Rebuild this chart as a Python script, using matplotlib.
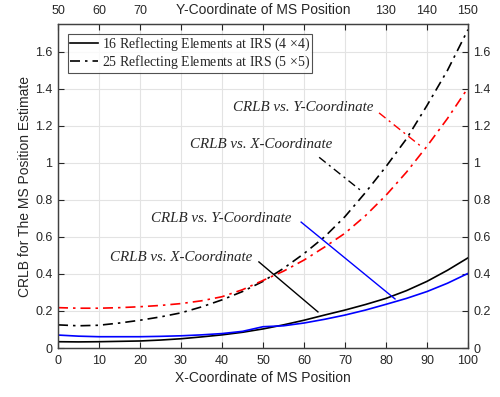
import matplotlib
matplotlib.use("Agg")
import matplotlib.pyplot as plt
import numpy as np

x = [0, 5, 10, 15, 20, 25, 30, 35, 40, 45, 50, 55, 60, 65, 70, 75, 80, 85, 90, 95, 100]
crlb16_x = [0.034, 0.033, 0.034, 0.036, 0.038, 0.043, 0.050, 0.060, 0.071, 0.085, 0.103,
            0.125, 0.150, 0.178, 0.205, 0.235, 0.268, 0.310, 0.360, 0.420, 0.487]
crlb16_y = [0.070, 0.064, 0.061, 0.061, 0.061, 0.063, 0.066, 0.071, 0.078, 0.090, 0.115,
            0.120, 0.135, 0.155, 0.178, 0.205, 0.236, 0.268, 0.305, 0.350, 0.403]
crlb25_x = [0.125, 0.120, 0.123, 0.135, 0.150, 0.168, 0.190, 0.222, 0.260, 0.305, 0.360,
            0.430, 0.510, 0.600, 0.710, 0.840, 0.980, 1.130, 1.310, 1.500, 1.720]
crlb25_y = [0.218, 0.215, 0.215, 0.218, 0.223, 0.230, 0.240, 0.255, 0.277, 0.315, 0.365,
            0.415, 0.475, 0.545, 0.620, 0.715, 0.825, 0.950, 1.090, 1.240, 1.405]

xticks = [0, 10, 20, 30, 40, 50, 60, 70, 80, 90, 100]
top_ticks = [50, 60, 70, 80, 90, 100, 110, 120, 130, 140, 150]
top_labels = ['50', '60', '70', '', '', '', '', '', '130', '140', '150']
yticks = [0, 0.2, 0.4, 0.6, 0.8, 1.0, 1.2, 1.4, 1.6]
ytick_labels = ['0', '0.2', '0.4', '0.6', '0.8', '1', '1.2', '1.4', '1.6']

legend_labels = ['16 Reflecting Elements at IRS (4 $\\times$4)',
                 '25 Reflecting Elements at IRS (5 $\\times$5)']

sans = ['Liberation Sans', 'DejaVu Sans']
serif = ['Liberation Serif', 'DejaVu Serif']
plt.rcParams['mathtext.fontset'] = 'custom'
plt.rcParams['mathtext.rm'] = 'Liberation Serif'
axc = '#262626'
dashdot = (0, (6, 3, 1.5, 3))

fig = plt.figure(figsize=(5.0, 3.97), dpi=100)
ax = fig.add_axes([0.116, 0.1234, 0.82, 0.8161])

ax.plot(x, crlb16_x, color='black', lw=1.2, label=legend_labels[0])
ax.plot(x, crlb25_x, color='black', lw=1.2, linestyle=dashdot, label=legend_labels[1])
ax.plot(x, crlb16_y, color='blue', lw=1.2)
ax.plot(x, crlb25_y, color='red', lw=1.2, linestyle=dashdot)

ax.set_xlim(0, 100)
ax.set_ylim(0, 1.75)
ax.set_xticks(xticks)
ax.set_xticklabels([str(t) for t in xticks], family=sans, fontsize=9, color=axc)
ax.set_yticks(yticks)
ax.set_yticklabels(ytick_labels, family=sans, fontsize=9, color=axc)
ax.tick_params(direction='in', length=4, width=0.8, color=axc, right=True, labelright=True)
ax.tick_params(axis='x', pad=5)
ax.tick_params(axis='y', pad=4)
ax.grid(True, color='#e3e3e3', lw=0.8)
ax.set_axisbelow(True)
for s in ax.spines.values():
    s.set_color('#404040')
    s.set_linewidth(0.9)

ax.set_xlabel('X-Coordinate of MS Position', family=sans, fontsize=10, color=axc, va='center')
ax.xaxis.set_label_coords(0.5, -0.0926)
ax.set_ylabel('CRLB for The MS Position Estimate', family=sans, fontsize=10, color=axc, va='center')
ax.yaxis.set_label_coords(-0.080, 0.5)

ax2 = ax.twiny()
ax2.set_xlim(50, 150)
ax2.set_xticks(top_ticks)
ax2.set_xticklabels(top_labels, family=sans, fontsize=9, color=axc)
ax2.tick_params(direction='in', length=4, width=0.8, color=axc, pad=5)
ax2.set_xlabel('Y-Coordinate of MS Position', family=sans, fontsize=10, color=axc, va='center')
ax2.xaxis.set_label_coords(0.5, 1.043)
for s in ax2.spines.values():
    s.set_color('#404040')
    s.set_linewidth(0.9)

leg = ax.legend(loc='upper left', bbox_to_anchor=(0.0244, 0.969), prop={'family': serif, 'size': 10},
                frameon=True, fancybox=False, edgecolor='#262626', handlelength=2.0,
                borderpad=0.15, labelspacing=0.0, handletextpad=0.3, borderaxespad=0.0)
leg.get_frame().set_linewidth(0.8)
for t in leg.get_texts():
    t.set_color(axc)

tkw = dict(family=serif, style='italic', fontsize=10.8, color=axc, ha='right', va='center')
ax.text(76.8, 1.30, 'CRLB vs. Y-Coordinate', **tkw)
ax.plot([78.3, 88.5], [1.27, 1.09], color='red', lw=1.0, linestyle=dashdot)
ax.text(67.0, 1.10, 'CRLB vs. X-Coordinate', **tkw)
ax.plot([63.7, 73.9], [1.03, 0.85], color='black', lw=1.0, linestyle=dashdot)
ax.text(56.8, 0.70, 'CRLB vs. Y-Coordinate', **tkw)
ax.plot([59.3, 82.2], [0.68, 0.265], color='blue', lw=1.0)
ax.text(47.3, 0.49, 'CRLB vs. X-Coordinate', **tkw)
ax.plot([49.0, 63.4], [0.465, 0.195], color='black', lw=1.0)

fig.savefig('out.png', dpi=100)
